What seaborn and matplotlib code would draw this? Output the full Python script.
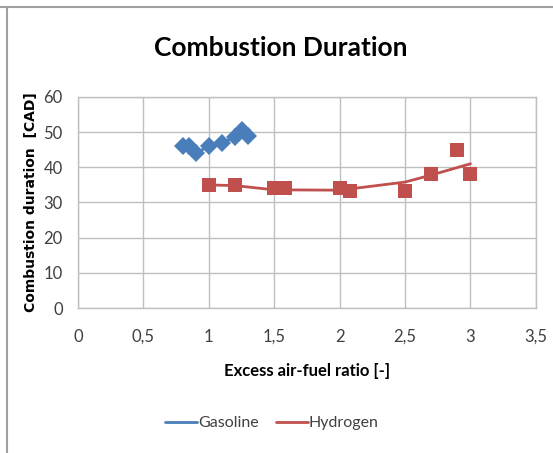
import matplotlib
matplotlib.use("Agg")
import matplotlib.pyplot as plt
import seaborn as sns
from matplotlib.lines import Line2D

# values
gasoline_lambda = [0.80, 0.85, 0.90, 1.00, 1.10, 1.20, 1.25, 1.30]
gasoline_duration = [46.0, 46.0, 44.0, 46.0, 47.0, 48.5, 50.5, 49.0]

hydrogen_lambda = [1.00, 1.20, 1.50, 1.58, 2.00, 2.08, 2.50, 2.70, 2.90, 3.00]
hydrogen_duration = [35.0, 35.0, 34.0, 34.0, 34.0, 33.3, 33.3, 38.0, 45.0, 38.0]

# trend line drawn through the hydrogen points
hydrogen_fit_lambda = [1.00, 1.20, 1.50, 2.00, 2.50, 2.70, 3.00]
hydrogen_fit_duration = [35.0, 34.8, 33.6, 33.5, 35.8, 37.8, 41.0]

x_ticks = [0, 0.5, 1, 1.5, 2, 2.5, 3, 3.5]
x_tick_labels = ["0", "0,5", "1", "1,5", "2", "2,5", "3", "3,5"]
y_ticks = [0, 10, 20, 30, 40, 50, 60]

BLUE = "#4a7ebb"
RED = "#c0504d"
GRID = "#bfbfbf"

sns.set_theme(style="white")
plt.rcParams["font.family"] = ["Lato", "DejaVu Sans"]
plt.rcParams["text.color"] = "#000000"

fig = plt.figure(figsize=(5.53, 4.53), dpi=100)
ax = fig.add_axes([0.141, 0.320, 0.828, 0.466])

sns.lineplot(
    x=gasoline_lambda,
    y=gasoline_duration,
    estimator=None,
    color=BLUE,
    linewidth=2,
    marker="D",
    markersize=9.5,
    markeredgewidth=0,
    ax=ax,
)
sns.lineplot(
    x=hydrogen_fit_lambda,
    y=hydrogen_fit_duration,
    estimator=None,
    color=RED,
    linewidth=2,
    ax=ax,
)
sns.scatterplot(
    x=hydrogen_lambda,
    y=hydrogen_duration,
    color=RED,
    marker="s",
    s=110,
    linewidth=0,
    ax=ax,
    zorder=3,
)

ax.set_xlim(0, 3.5)
ax.set_ylim(0, 60)
ax.set_xticks(x_ticks)
ax.set_xticklabels(x_tick_labels)
ax.set_yticks(y_ticks)
ax.grid(True, color=GRID, linewidth=1)
ax.set_axisbelow(True)
for spine in ax.spines.values():
    spine.set_color(GRID)
    spine.set_linewidth(1)
ax.tick_params(axis="y", length=0, labelsize=12, colors="#404040", pad=11)
ax.tick_params(axis="x", length=0, labelsize=12, colors="#404040", pad=15)

ax.set_xlabel("Excess air-fuel ratio [-]", fontsize=12, fontweight="bold",
              labelpad=13, color="#000000")
ax.set_ylabel(
    "Combustion duration  [CAD]",
    fontsize=10,
    fontweight="bold",
    family=["DejaVu Sans"],
    labelpad=4,
    color="#000000",
)

fig.text(0.507, 0.893, "Combustion Duration", ha="center", va="center",
         fontsize=19, fontweight="bold", color="#000000")

handles = [
    Line2D([0], [0], color=BLUE, linewidth=2),
    Line2D([0], [0], color=RED, linewidth=2),
]
leg = fig.legend(
    handles,
    ["Gasoline", "Hydrogen"],
    loc="center",
    bbox_to_anchor=(0.492, 0.066),
    ncol=2,
    frameon=False,
    fontsize=11.5,
    handlelength=2.0,
    handletextpad=0.05,
    columnspacing=1.1,
)
for t in leg.get_texts():
    t.set_color("#404040")

# chart area frame lines at the top and left edge
fig.add_artist(Line2D([0, 1], [0.985, 0.985], transform=fig.transFigure,
                      color="#a0a0a0", linewidth=1.5))
fig.add_artist(Line2D([0.013, 0.013], [0, 0.985], transform=fig.transFigure,
                      color="#a0a0a0", linewidth=1.5))

fig.savefig("out.png", dpi=100)
plt.close(fig)
